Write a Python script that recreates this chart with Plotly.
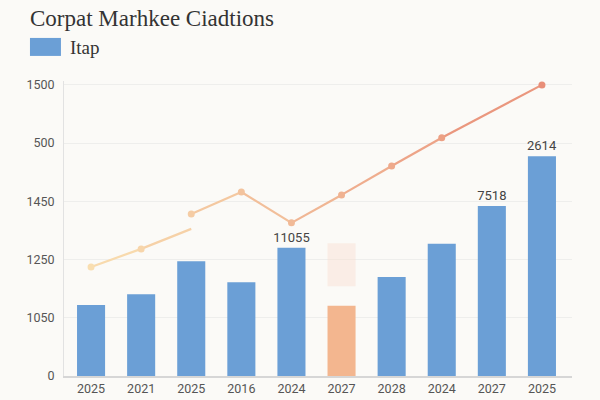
import plotly.graph_objects as go

# data
years = ['2025', '2021', '2025', '2016', '2024', '2027', '2028', '2024', '2027', '2025']
bar_values = [366, 421, 591, 483, 661, 362, 510, 682, 876, 1132]
bar_labels = ['', '', '', '', '11055', '', '', '', '7518', '2614']
highlight = 5
ghost_low = 462
ghost_high = 684

line_a_x = [0, 1, 2]
line_a_y = [562, 655, 758]
line_b_x = [2, 3, 4, 5, 6, 7, 9]
line_b_y = [835, 948, 789, 933, 1082, 1228, 1500]

tick_vals = [0, 300, 600, 900, 1200, 1500]
tick_text = ['0', '1050', '1250', '1450', '500', '1500']


def shade(t):
    # light peach -> salmon
    a = (249, 222, 176)
    b = (232, 142, 120)
    c = [round(a[i] + (b[i] - a[i]) * t) for i in range(3)]
    return 'rgb(%d,%d,%d)' % tuple(c)


fig = go.Figure()

colors = ['#6b9fd6'] * len(years)
colors[highlight] = '#f3b68f'
idx = list(range(len(years)))

fig.add_trace(go.Bar(x=[highlight], y=[ghost_high - ghost_low], base=[ghost_low], width=0.56,
                     marker=dict(color='rgba(248,222,208,0.45)', line=dict(width=0)),
                     hoverinfo='skip', showlegend=False))
fig.add_trace(go.Bar(x=idx, y=bar_values, width=0.56, name='Itap',
                     marker=dict(color=colors, line=dict(width=0)),
                     text=bar_labels, textposition='outside', cliponaxis=False,
                     constraintext='none',
                     textfont=dict(family='Roboto', size=13, color='#444')))

# line drawn piece by piece so the colour can fade
for xs, ys in [(line_a_x, line_a_y), (line_b_x, line_b_y)]:
    for i in range(len(xs) - 1):
        t = (xs[i] + xs[i + 1]) / 2 / 9
        fig.add_trace(go.Scatter(x=xs[i:i + 2], y=ys[i:i + 2], mode='lines',
                                 line=dict(color=shade(t), width=2.2),
                                 hoverinfo='skip', showlegend=False))

mx = line_a_x[:-1] + line_b_x
my = line_a_y[:-1] + line_b_y
fig.add_trace(go.Scatter(x=mx, y=my, mode='markers',
                         marker=dict(size=7, color=[shade(v / 9) for v in mx]),
                         showlegend=False))

fig.update_layout(
    width=600, height=400,
    paper_bgcolor='#fbfaf7', plot_bgcolor='#fbfaf7',
    margin=dict(l=64, r=28, t=81, b=24),
    showlegend=False, barmode='overlay',
    title=dict(text='Corpat Marhkee Ciadtions', x=0.05, xanchor='left', y=0.955, yanchor='middle',
               font=dict(family='Liberation Serif', size=23, color='#333')),
    xaxis=dict(range=[-0.54, 9.6], tickvals=idx, ticktext=years, showgrid=False,
               showline=True, linecolor='#d6d6d6', linewidth=1.5, ticks='', automargin=False,
               tickfont=dict(family='Roboto', size=12.5, color='#555'), fixedrange=True),
    yaxis=dict(range=[0, 1520], tickvals=tick_vals, ticktext=tick_text, showgrid=True,
               gridcolor='#eeeeec', gridwidth=1, zeroline=False, showline=True, automargin=False,
               linecolor='#e2e2e2', ticks='', ticklabelstandoff=6,
               tickfont=dict(family='Roboto', size=12.5, color='#555')),
)

fig.add_shape(type='rect', xref='paper', yref='paper', x0=-0.067, x1=-0.006, y0=1.085, y1=1.146,
              fillcolor='#6b9fd6', line=dict(width=0))
fig.add_annotation(text='Itap', xref='paper', yref='paper', x=0.008, y=1.115, xanchor='left',
                   yanchor='middle', showarrow=False,
                   font=dict(family='Liberation Serif', size=19, color='#333'))

fig.write_html('out.html', config={'displayModeBar': False},
               post_script="document.body.style.margin='0';document.body.style.background='#fbfaf7';")
